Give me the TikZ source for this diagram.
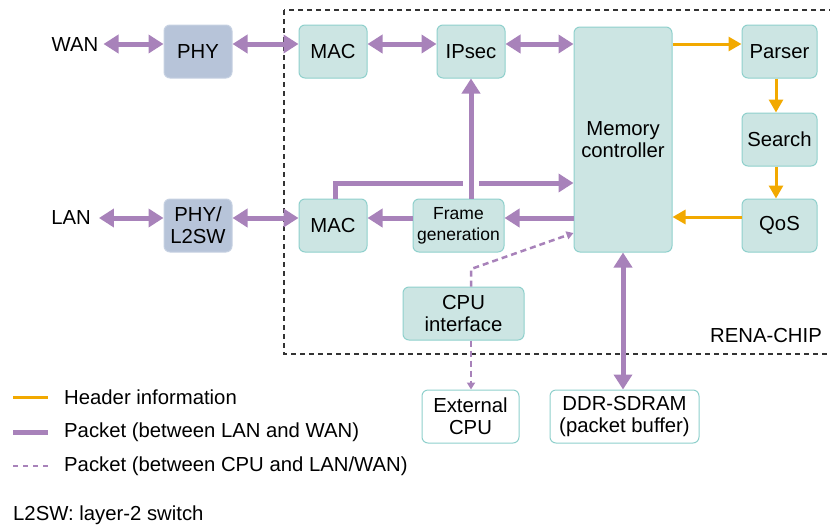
\documentclass[tikz,border=0pt]{standalone}
\usepackage{fontspec}
\setmainfont{Liberation Sans}
\usetikzlibrary{arrows.meta}
\definecolor{pkcol}{HTML}{A882BA}
\definecolor{orcol}{HTML}{F2A900}
\definecolor{tealfill}{HTML}{CCE5E3}
\definecolor{tealline}{HTML}{8FD0CC}
\definecolor{phyfill}{HTML}{B7C4D9}
\definecolor{phyline}{HTML}{C6D1E2}
\definecolor{chipcol}{HTML}{333333}
\begin{document}
\begin{tikzpicture}[x=1pt,y=-1pt,
  font=\fontsize{20.3}{22}\selectfont,
  box/.style={rounded corners=6pt, line width=1pt, align=center, inner sep=0pt},
  blk/.style={box, draw=tealline, fill=tealfill},
  phyblk/.style={box, draw=phyline, fill=phyfill},
  extblk/.style={box, draw=tealline, fill=white},
  pkt/.style={draw=pkcol, line width=5pt, >={Triangle[length=15pt,width=18pt]}},
  hdr/.style={draw=orcol, line width=3pt, >={Triangle[length=13pt,width=14pt]}},
  cpul/.style={draw=pkcol, line width=2.5pt, dash pattern=on 6pt off 4pt, >={Triangle[length=7pt,width=8pt]}},
  chipline/.style={draw=chipcol, line width=1.3pt, dash pattern=on 5pt off 4pt},
  lbl/.style={inner sep=0pt}
]
\useasboundingbox (0,0) rectangle (830,528);

% chip outline
\draw[chipline] (284,10) rectangle (836,354);
\node[lbl, anchor=east] (chip) at (822,336) {RENA-CHIP};

% nodes
\node[lbl] (wan) at (75,45) {WAN};
\node[lbl] (lan) at (71,218) {LAN};
\node[phyblk, minimum width=68pt, minimum height=53pt] (phy) at (198,51.5) {PHY};
\node[phyblk, minimum width=68pt, minimum height=53pt] (phyl) at (198,225.5) {PHY/\\L2SW};
\node[blk, minimum width=68pt, minimum height=53pt] (mac1) at (333,51.5) {MAC};
\node[blk, minimum width=68pt, minimum height=53pt] (mac2) at (333,225.5) {MAC};
\node[blk, minimum width=68pt, minimum height=53pt] (ipsec) at (471,51.5) {IPsec};
\node[blk, minimum width=98pt, minimum height=225pt] (mem) at (623,139.5) {Memory\\controller};
\node[blk, minimum width=75pt, minimum height=53pt] (parser) at (779.5,51.5) {Parser};
\node[blk, minimum width=75pt, minimum height=53pt] (search) at (779.5,139.5) {Search};
\node[blk, minimum width=75pt, minimum height=53pt] (qos) at (779.5,225.5) {QoS};
\node[blk, minimum width=91pt, minimum height=53pt, font=\fontsize{17.5}{21}\selectfont] (frame) at (458.5,225.5) {Frame\\generation};
\node[blk, minimum width=121pt, minimum height=53pt] (cpuif) at (463.5,313.5) {CPU\\interface};
\node[extblk, minimum width=97pt, minimum height=53pt] (ext) at (470.5,416.5) {External\\CPU};
\node[extblk, minimum width=149pt, minimum height=53pt] (ddr) at (624.5,416.5) {DDR-SDRAM\\(packet buffer)};

% row coordinates
\coordinate (r1) at (0,44);
\coordinate (r2) at (0,218);
\coordinate (r3) at (0,183);
\coordinate (c1) at (471,0);
\coordinate (c2) at (776,0);
\coordinate (c3) at (623,0);
\coordinate (c4) at (335,0);

% purple packet connectors
\draw[pkt,<->] ([xshift=5pt]wan.east |- r1) -- (phy.west |- r1);
\draw[pkt,<->] (phy.east |- r1) -- (mac1.west |- r1);
\draw[pkt,<->] (mac1.east |- r1) -- (ipsec.west |- r1);
\draw[pkt,<->] (ipsec.east |- r1) -- (mem.west |- r1);
\draw[pkt,<->] ([xshift=8pt]lan.east |- r2) -- (phyl.west |- r2);
\draw[pkt,<->] (phyl.east |- r2) -- (mac2.west |- r2);
\draw[pkt,->] (mem.west |- r2) -- (frame.east |- r2);
\draw[pkt,->] (frame.west |- r2) -- (mac2.east |- r2);
\draw[pkt,->] (frame.north -| c1) -- (ipsec.south -| c1);
\coordinate (gapl) at (463,183);
\coordinate (gapr) at (479,183);
\draw[pkt] (mac2.north -| c4) |- (gapl);
\draw[pkt,->] (gapr) -- (mem.west |- r3);
\draw[pkt,<->] (mem.south -| c3) -- (ddr.north -| c3);

% orange header connectors
\draw[hdr,->] (mem.east |- r1) -- (parser.west |- r1);
\draw[hdr,->] (parser.south -| c2) -- (search.north -| c2);
\draw[hdr,->] (search.south -| c2) -- (qos.north -| c2);
\draw[hdr,->] (qos.west |- 0,217) -- (mem.east |- 0,217);

% dashed CPU connectors
\coordinate (bend) at (471,269);
\draw[cpul,->] (cpuif.north -| c1) -- (bend) -- (mem.west |- 0,233);
\draw[cpul,->] (cpuif.south -| c1) -- (ext.north -| c1);

% legend
\coordinate (l1a) at (13,397); \coordinate (l1b) at (48,397);
\coordinate (l2a) at (13,432); \coordinate (l2b) at (48,432);
\coordinate (l3a) at (13,466); \coordinate (l3b) at (48,466);
\draw[hdr] (l1a) -- (l1b);
\draw[pkt] (l2a) -- (l2b);
\draw[cpul, dash pattern=on 5pt off 5pt] (l3a) -- (l3b);
\node[lbl, anchor=west] (t1) at (64,397) {Header information};
\node[lbl, anchor=west] (t2) at (64,432) {Packet (between LAN and WAN)};
\node[lbl, anchor=west] (t3) at (64,466) {Packet (between CPU and LAN/WAN)};
\node[lbl, anchor=west] (t4) at (13,515) {L2SW: layer-2 switch};
\end{tikzpicture}
\end{document}
